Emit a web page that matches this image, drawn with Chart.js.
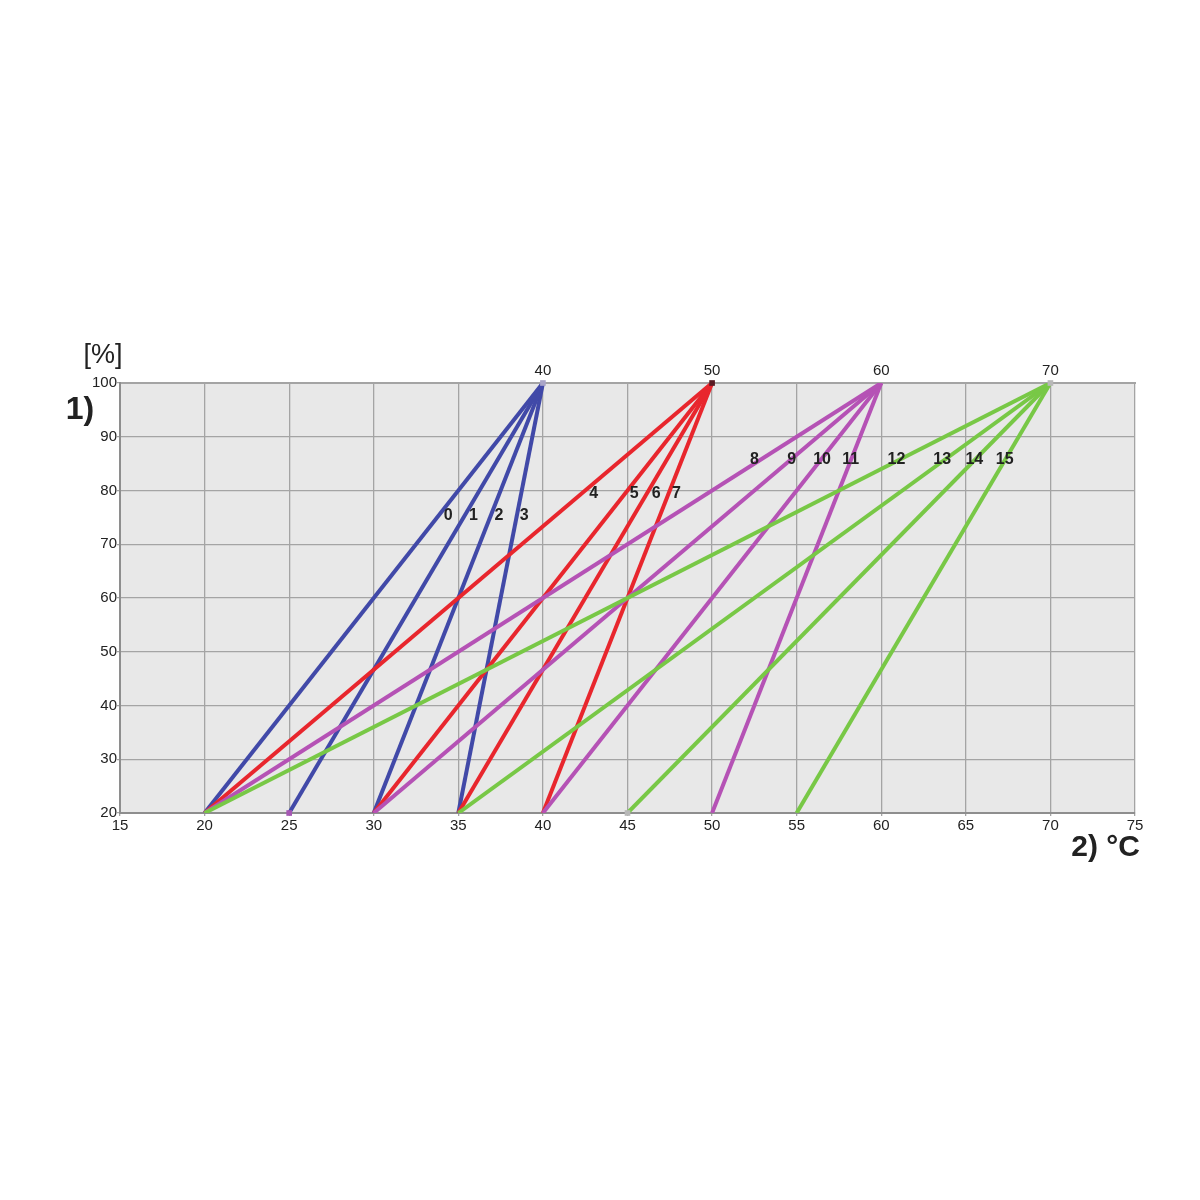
<!DOCTYPE html>
<html>
<head>
<meta charset="UTF-8" />
<title>lines</title>
<script src="https://cdn.jsdelivr.net/npm/chart.js@4.4.0/dist/chart.umd.min.js"></script>
<style>
  html, body { margin: 0; padding: 0; background: #fff; }
  canvas { display: block; }
</style>
</head>
<body>
<canvas id="chart" width="1200" height="1200"></canvas>
<script>
  // data: each group of lines starts at y=20 and meets at the top (y=100)
  const yLow = 20;
  const yHigh = 100;
  const blueStarts = [20, 25, 30, 35];
  const blueTop = 40;
  const redStarts = [20, 30, 35, 40];
  const redTop = 50;
  const magentaStarts = [20, 30, 40, 50];
  const magentaTop = 60;
  const greenStarts = [20, 35, 45, 55];
  const greenTop = 70;
  const topTicks = [40, 50, 60, 70];

  // curve numbers, anchored in data units
  const curveNames = ['0', '1', '2', '3', '4', '5', '6', '7', '8', '9', '10', '11', '12', '13', '14', '15'];
  const curveNameX = [34.4, 35.9, 37.4, 38.9, 43.0, 45.4, 46.7, 47.9, 52.5, 54.7, 56.5, 58.2, 60.9, 63.6, 65.5, 67.3];
  const curveNameY = [75.3, 75.3, 75.3, 75.3, 79.5, 79.5, 79.5, 79.5, 85.7, 85.7, 85.7, 85.7, 85.7, 85.7, 85.7, 85.7];

  // later groups are drawn on top (green over magenta over red over blue)
  const groups = [
    { starts: blueStarts, top: blueTop, color: '#4149a8', order: 4 },
    { starts: redStarts, top: redTop, color: '#e8262d', order: 3 },
    { starts: magentaStarts, top: magentaTop, color: '#b552b5', order: 2 },
    { starts: greenStarts, top: greenTop, color: '#78c846', order: 1 }
  ];

  const datasets = [];
  groups.forEach(function (g) {
    g.starts.forEach(function (s) {
      datasets.push({
        data: [{ x: s, y: yLow }, { x: g.top, y: yHigh }],
        borderColor: g.color,
        borderWidth: 4,
        pointRadius: 0,
        fill: false,
        order: g.order
      });
    });
  });

  // small end markers
  datasets.push({
    type: 'scatter',
    data: [
      { x: 25, y: yLow }, { x: blueTop, y: yHigh }, { x: redTop, y: yHigh },
      { x: 45, y: yLow }, { x: greenTop, y: yHigh }
    ],
    pointStyle: 'rect',
    pointRadius: 4,
    backgroundColor: ['#a657b4', '#a9a5c8', '#5a1a22', '#b8b8b8', '#b8b8b8'],
    borderWidth: 0,
    clip: false,
    order: 0
  });

  const font = 'Liberation Sans, Arial, sans-serif';

  const background = {
    id: 'background',
    beforeDraw(chart) {
      const c = chart.ctx, a = chart.chartArea;
      c.save();
      c.fillStyle = '#ffffff';
      c.fillRect(0, 0, chart.width, chart.height);
      c.fillStyle = '#e8e8e8';
      c.fillRect(a.left, a.top, a.right - a.left, a.bottom - a.top);
      c.restore();
    }
  };

  const texts = {
    id: 'texts',
    afterDatasetsDraw(chart) {
      const c = chart.ctx, xs = chart.scales.x, ys = chart.scales.y;
      c.save();
      c.fillStyle = '#222';
      c.font = 'bold 16px ' + font;
      c.textAlign = 'center';
      c.textBaseline = 'middle';
      curveNames.forEach(function (t, i) {
        c.fillText(t, xs.getPixelForValue(curveNameX[i]), ys.getPixelForValue(curveNameY[i]));
      });
      c.fillStyle = '#222';
      c.font = '27px ' + font;
      c.textAlign = 'center';
      c.fillText('[%]', 103, 356);
      c.font = 'bold 32px ' + font;
      c.fillText('1)', 80, 410);
      c.font = 'bold 30px ' + font;
      c.textAlign = 'right';
      c.fillText('2) °C', 1140, 848);
      c.restore();
    }
  };

  const config = {
    type: 'line',
    data: { datasets: datasets },
    options: {
      responsive: false,
      animation: false,
      layout: { padding: { left: 0, right: 65, top: 0, bottom: 0 } },
      plugins: { legend: { display: false }, tooltip: { enabled: false } },
      scales: {
        x: {
          type: 'linear',
          position: 'bottom',
          min: 15,
          max: 75,
          ticks: { stepSize: 5, color: '#222', font: { family: font, size: 15 }, padding: 1 },
          grid: { color: '#a4a4a4', lineWidth: 1.3, tickLength: 3 },
          border: { color: '#8e8e8e', width: 2 },
          afterFit(scale) { scale.height = 387; }
        },
        x2: {
          type: 'linear',
          position: 'top',
          min: 15,
          max: 75,
          afterBuildTicks(scale) { scale.ticks = topTicks.map(function (v) { return { value: v }; }); },
          ticks: { color: '#222', font: { family: font, size: 15 }, padding: 3 },
          grid: { drawOnChartArea: false, drawTicks: false },
          border: { color: '#a4a4a4', width: 2 },
          afterFit(scale) { scale.height = 383; }
        },
        y: {
          min: 20,
          max: 100,
          ticks: { stepSize: 10, color: '#222', font: { family: font, size: 15 }, padding: 0 },
          grid: { color: '#a4a4a4', lineWidth: 1.3, tickLength: 3 },
          border: { color: '#8e8e8e', width: 2 },
          afterFit(scale) { scale.width = 120; }
        }
      }
    },
    plugins: [background, texts]
  };

  const chart = new Chart(document.getElementById('chart'), config);
</script>
</body>
</html>
